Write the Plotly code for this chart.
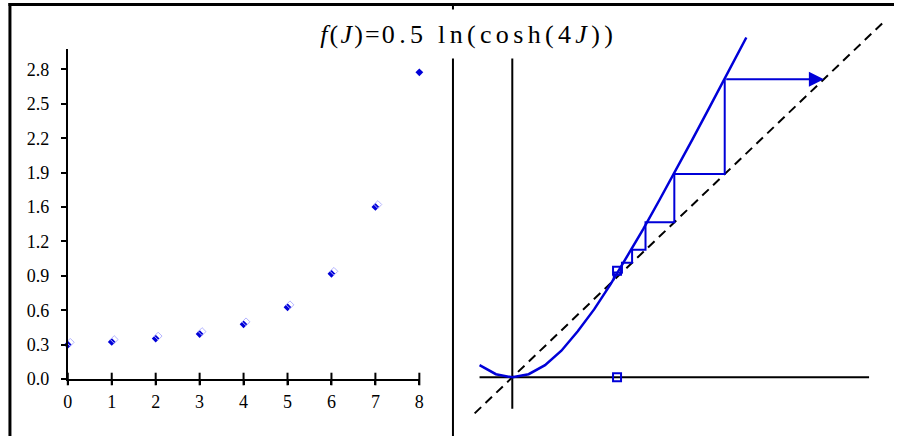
import plotly.graph_objects as go

# Iterates J_n of the recursion J_{n+1} = f(J_n)
steps = [0, 1, 2, 3, 4, 5, 6, 7, 8]
J_iter = [0.31, 0.335, 0.366, 0.407, 0.495, 0.649, 0.952, 1.556, 2.774]

# Left-panel y ticks (labels rounded to one decimal)
ytick_vals = [k * 2.8 / 9 for k in range(10)]
ytick_text = ["%.1f" % v for v in ytick_vals]

# Sampled curve f(J) = 0.5 ln(cosh(4J))
curve_J = [-0.10, -0.05, 0.00, 0.05, 0.10, 0.15, 0.20, 0.25, 0.30, 0.35,
           0.40, 0.45, 0.50, 0.55, 0.60, 0.65, 0.70, 0.715]
curve_f = [0.039, 0.010, 0.000, 0.010, 0.039, 0.085, 0.147, 0.217, 0.297, 0.383,
           0.473, 0.567, 0.662, 0.759, 0.857, 0.956, 1.055, 1.085]

# Diagonal f = J and the axis extents of the right panel
diag_ends = [-0.115, 1.133]
haxis_ends = [-0.10, 1.09]
vaxis_ends = [-0.10, 1.02]

# Fixed point marker and its projection on the J axis
fixed_J = [0.32, 0.32]
fixed_f = [0.34, 0.0]

n_stair = 6  # staircase steps drawn before the arrow

BLUE = "#0000d8"
SHADOW = "#b4b4ff"
SERIF = "Liberation Serif"

W, H = 899, 446
# pixel layout of the two panels
L_X0, L_X1 = 63.5, 419.0
L_Y0, L_Y1 = 387.7, 50.0
px_per_unit_x = (L_X1 - L_X0) / 8
px_per_unit_y = 113.1
L_YTOP = (L_Y0 - L_Y1) / px_per_unit_y
SHADOW_PX = 2.5
R_OX, R_OY = 513.0, 386.0
R_SX, R_SY = 331.0, 320.4

fig = go.Figure()

# ---- left panel: iterates versus step ----
fig.add_trace(go.Scatter(
    x=steps, y=[0] * len(steps), mode="markers",
    marker=dict(symbol="line-ns", size=9, line=dict(color="black", width=2)),
    xaxis="x", yaxis="y", cliponaxis=False, hoverinfo="skip"))
# soft drop shadow of the markers (same data on slightly shifted axes)
fig.add_trace(go.Scatter(
    x=steps, y=J_iter, mode="markers",
    marker=dict(symbol="diamond-open", size=6, color=SHADOW, line=dict(width=1)),
    xaxis="x3", yaxis="y3", cliponaxis=False, hoverinfo="skip"))
fig.add_trace(go.Scatter(
    x=steps, y=J_iter, mode="markers",
    marker=dict(symbol="diamond", size=6, color=BLUE),
    xaxis="x", yaxis="y", cliponaxis=False))

# ---- right panel: cobweb construction ----
fig.add_trace(go.Scatter(
    x=haxis_ends, y=[0, 0], mode="lines",
    line=dict(color="black", width=2), xaxis="x2", yaxis="y2"))
fig.add_trace(go.Scatter(
    x=[0, 0], y=vaxis_ends, mode="lines",
    line=dict(color="black", width=2), xaxis="x2", yaxis="y2"))
fig.add_trace(go.Scatter(
    x=diag_ends, y=diag_ends, mode="lines",
    line=dict(color="black", width=2, dash="9px,6px"), xaxis="x2", yaxis="y2"))
fig.add_trace(go.Scatter(
    x=curve_J, y=curve_f, mode="lines",
    line=dict(color=BLUE, width=2.5), xaxis="x2", yaxis="y2"))

stair_x, stair_y = [J_iter[0]], [J_iter[0]]
for n in range(n_stair):
    stair_x.append(J_iter[n])
    stair_y.append(J_iter[n + 1])
    if n < n_stair - 1:
        stair_x.append(J_iter[n + 1])
        stair_y.append(J_iter[n + 1])
fig.add_trace(go.Scatter(
    x=stair_x, y=stair_y, mode="lines",
    line=dict(color=BLUE, width=2), xaxis="x2", yaxis="y2"))

fig.add_trace(go.Scatter(
    x=fixed_J, y=fixed_f, mode="markers",
    marker=dict(symbol="square-open", size=8, color=BLUE, line=dict(width=2)),
    xaxis="x2", yaxis="y2", cliponaxis=False))

# final step shown as an arrow along f = J_{n+1}
fig.add_annotation(
    x=J_iter[n_stair], y=J_iter[n_stair],
    ax=J_iter[n_stair - 1], ay=J_iter[n_stair],
    xref="x2", yref="y2", axref="x2", ayref="y2",
    showarrow=True, arrowhead=2, arrowsize=1.5, arrowwidth=2,
    arrowcolor=BLUE, text="")

# title, letter-spaced
HAIR, SIXTH = "\u200a", "\u2006"
title = (HAIR.join(["<i>f</i>", "(", "<i>J</i>", ")", "=", "0"])
         + SIXTH + SIXTH.join([".", "5", " ", "l", "n", "(", "c", "o", "s", "h",
                               "(", "4", "<i>J</i>", ")", ")"]))
fig.add_annotation(
    x=467 / W, y=(H - 34.5) / H, xref="paper", yref="paper",
    xanchor="center", yanchor="middle", showarrow=False,
    text=title, font=dict(family=SERIF, size=26, color="black"),
    bgcolor="white", height=46, width=305)

# frame and divider
fig.add_shape(type="line", xref="paper", yref="paper",
              x0=5 / W, x1=5 / W, y0=0, y1=(H - 3) / H,
              line=dict(color="black", width=3))
fig.add_shape(type="line", xref="paper", yref="paper",
              x0=3.5 / W, x1=1, y0=(H - 4.5) / H, y1=(H - 4.5) / H,
              line=dict(color="black", width=3))
fig.add_shape(type="line", xref="paper", yref="paper",
              x0=453 / W, x1=453 / W, y0=0, y1=(H - 4.5) / H,
              line=dict(color="black", width=2))

axis_font = dict(family=SERIF, size=18, color="black")
dx = SHADOW_PX / px_per_unit_x
dy = SHADOW_PX / px_per_unit_y
fig.update_layout(
    width=W, height=H, autosize=False, margin=dict(l=0, r=0, t=0, b=0),
    paper_bgcolor="white", plot_bgcolor="rgba(0,0,0,0)", showlegend=False,
    xaxis=dict(domain=[L_X0 / W, L_X1 / W], range=[0, 8], anchor="y",
               showline=True, linecolor="black", linewidth=2,
               tickvals=steps, ticks="outside", ticklen=4, tickwidth=2,
               tickcolor="black", tickfont=axis_font, ticklabelstandoff=1,
               showgrid=False, zeroline=False),
    yaxis=dict(domain=[(H - L_Y0) / H, (H - L_Y1) / H],
               range=[0, L_YTOP], anchor="x",
               showline=True, linecolor="black", linewidth=2,
               tickvals=ytick_vals, ticktext=ytick_text,
               ticks="outside", ticklen=5, tickwidth=2, tickcolor="black",
               tickfont=axis_font, ticklabelstandoff=8,
               showgrid=False, zeroline=False),
    xaxis3=dict(overlaying="x", range=[-dx, 8 - dx], anchor="y3", visible=False),
    yaxis3=dict(overlaying="y", range=[-dy, L_YTOP - dy], anchor="x3", visible=False),
    xaxis2=dict(domain=[0, 1], range=[-R_OX / R_SX, (W - R_OX) / R_SX],
                anchor="y2", visible=False),
    yaxis2=dict(domain=[0, 1], range=[-(H - R_OY) / R_SY, R_OY / R_SY],
                anchor="x2", visible=False),
)

fig.write_html("out.html", config={"responsive": False})
